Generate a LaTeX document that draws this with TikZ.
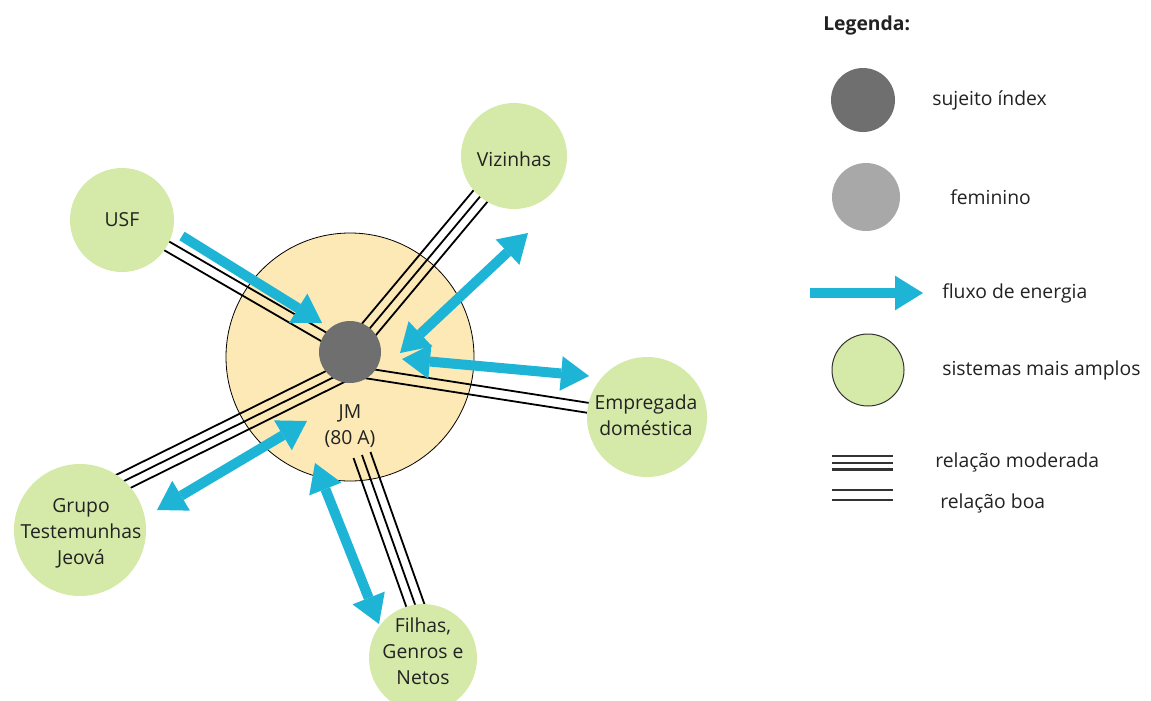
\documentclass[tikz,border=0pt]{standalone}
\usepackage{fontspec}
\setmainfont{Open Sans}
\usetikzlibrary{arrows.meta,calc}
\pgfdeclarelayer{bg}
\pgfdeclarelayer{rel}
\pgfsetlayers{bg,rel,main}
\definecolor{sysgreen}{HTML}{D5EAA8}
\definecolor{beige}{HTML}{FCE9B6}
\definecolor{darkg}{HTML}{6F6F6F}
\definecolor{lightg}{HTML}{A8A8A8}
\definecolor{flowcyan}{HTML}{1DB4D6}
\definecolor{txt}{HTML}{222222}
\newcommand\relline[3]{\draw[relstyle] ($(#1)!#3!90:(#2)$) -- ($(#2)!#3!-90:(#1)$);}
\begin{document}
\begin{tikzpicture}[x=0.75pt,y=-0.75pt,
  font=\fontsize{14.5pt}{19.5pt}\selectfont, text=txt,
  sys/.style={circle,fill=sysgreen,inner sep=0pt},
  lbl/.style={align=center,inner sep=0pt},
  relstyle/.style={line width=1.35pt,black},
  flowtip/.tip={Triangle[width=26pt,length=21pt,line width=0pt]},
  flow/.style={line width=7.5pt,flowcyan,-flowtip},
  flowboth/.style={line width=7.5pt,flowcyan,flowtip-flowtip},
  leg/.style={anchor=west,inner sep=0pt}]
\useasboundingbox (0,0) rectangle (1151,700);

% ---------- central person ----------
\begin{pgfonlayer}{bg}
\node[circle,fill=beige,draw=black,line width=0.6pt,minimum size=186pt,inner sep=0pt] (jm) at (350,357) {};
\end{pgfonlayer}
\node[circle,fill=darkg,minimum size=46.5pt,inner sep=0pt] (idx) at (350,352) {};
\node[lbl] (jmtxt) at (350,426) {JM\\(80 A)};

% ---------- wider systems ----------
\node[sys,minimum size=78pt] (usf) at (122,220) {};
\node[lbl] (usftxt) at (usf) {USF};
\node[sys,minimum size=79.5pt] (viz) at (514,156) {};
\node[lbl] (viztxt) at (514,159) {Vizinhas};
\node[sys,minimum size=90pt] (emp) at (647,417) {};
\node[lbl] (emptxt) at (646,415) {Empregada\\doméstica};
\node[sys,minimum size=99pt] (grp) at (80,530) {};
\node[lbl] (grptxt) at (81,533) {Grupo\\Testemunhas\\Jeová};
\node[sys,minimum size=81pt] (fil) at (423,658) {};
\node[lbl] (filtxt) at (423,651) {Filhas,\\Genros e\\Netos};

% ---------- relation lines ----------
\coordinate (eaim) at ($(idx.center)!0.6!(idx.south)$);
\coordinate (gaim) at ($(grp.center)!0.41!(grp.north)$);
\coordinate (gaim2) at ($(idx.center)!0.55!(idx.south)$);
\coordinate (fstart) at (362,455);
\coordinate (faim) at (434,658);
\begin{pgfonlayer}{rel}
% USF: good (double)
\relline{usf.center}{idx.center}{3.75pt}
\relline{usf.center}{idx.center}{-3.75pt}
% Vizinhas: moderate (triple)
\relline{viz.center}{idx.center}{6.75pt}
\relline{viz.center}{idx.center}{0pt}
\relline{viz.center}{idx.center}{-6.75pt}
% Empregada: good (double)
\relline{emp.center}{eaim}{3.75pt}
\relline{emp.center}{eaim}{-3.75pt}
% Grupo: moderate (triple)
\relline{gaim}{gaim2}{6.75pt}
\relline{gaim}{gaim2}{0pt}
\relline{gaim}{gaim2}{-6.75pt}
% Filhas: moderate (triple)
\relline{fstart}{faim}{6.75pt}
\relline{fstart}{faim}{0pt}
\relline{fstart}{faim}{-6.75pt}
\end{pgfonlayer}

% ---------- energy flows ----------
\coordinate (a1s) at (182,236); \coordinate (a1e) at (322,323);
\coordinate (a2s) at (400,353); \coordinate (a2e) at (528,233);
\coordinate (a3s) at (402,359); \coordinate (a3e) at (589,376);
\coordinate (a4s) at (157,510); \coordinate (a4e) at (307,421);
\coordinate (a5s) at (315,463); \coordinate (a5e) at (379,624);
\draw[flow] (a1s) -- (a1e);
\draw[flowboth] (a2s) -- (a2e);
\draw[flowboth] (a3s) -- (a3e);
\draw[flowboth] (a4s) -- (a4e);
\draw[flowboth] (a5s) -- (a5e);

% ---------- legend ----------
\node[leg,font=\fontsize{14.5pt}{19.5pt}\selectfont\bfseries] (legtitle) at (823,25) {Legenda:};
\node[circle,fill=darkg,minimum size=48pt,inner sep=0pt] (lidx) at (863,100) {};
\node[leg] (lidxtxt) at (932,100) {sujeito índex};
\node[circle,fill=lightg,minimum size=51pt,inner sep=0pt] (lfem) at (866,197) {};
\node[leg] (lfemtxt) at (950,197) {feminino};
\coordinate (lfs) at (810,293); \coordinate (lfe) at (923,293);
\draw[flow] (lfs) -- (lfe);
\node[leg] (lflowtxt) at (942,293) {fluxo de energia};
\node[circle,fill=sysgreen,draw=black!80,line width=0.75pt,minimum size=54pt,inner sep=0pt] (lsys) at (868,370) {};
\node[leg] (lsystxt) at (942,370) {sistemas mais amplos};
\draw[line width=2.1pt,black!80] (832,456) -- (893,456);
\draw[line width=2.1pt,black!80] (832,463) -- (893,463);
\draw[line width=2.1pt,black!80] (832,469.5) -- (893,469.5);
\node[leg] (lmodtxt) at (935,462) {relação moderada};
\draw[line width=2pt,black!80] (832,490) -- (893,490);
\draw[line width=2pt,black!80] (832,500) -- (893,500);
\node[leg] (lboatxt) at (940,503) {relação boa};
\end{tikzpicture}
\end{document}
